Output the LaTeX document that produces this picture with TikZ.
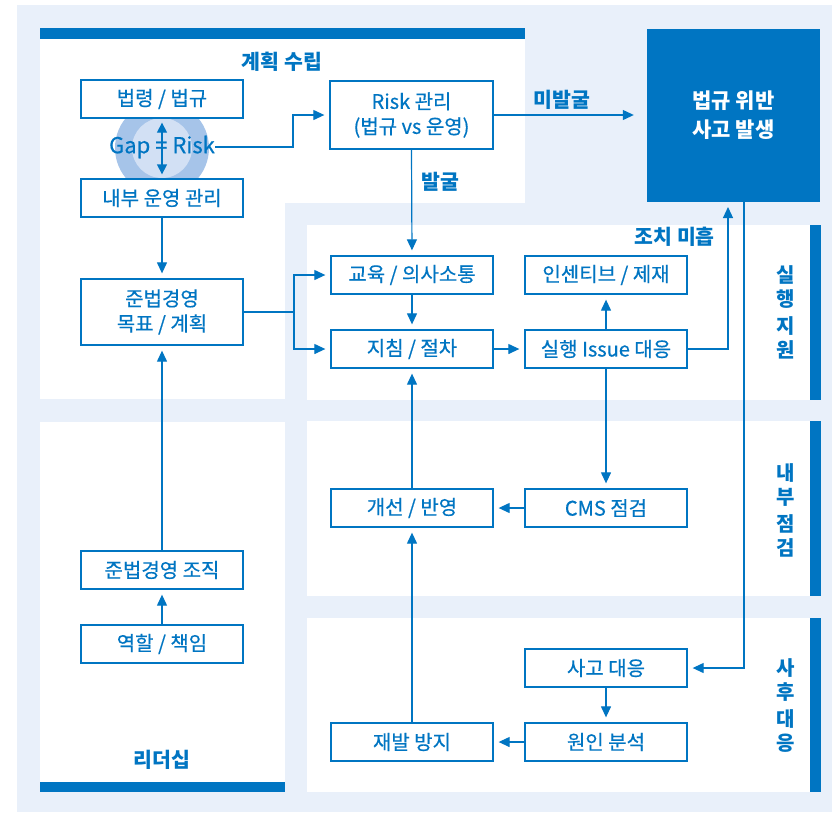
\documentclass[tikz,border=0pt]{standalone}
\usepackage{fontspec}
\setmainfont{Noto Sans CJK KR}
\newfontfamily\medio{Noto Sans CJK KR}[FakeBold=0.5]
\usetikzlibrary{arrows.meta}

\definecolor{cmsblu}{HTML}{0075C2}
\definecolor{cmsfondo}{HTML}{E9F0FA}
\definecolor{anelloext}{HTML}{A6C4E9}
\definecolor{anelloint}{HTML}{D2E0F4}

\newcommand{\fontbox}{\medio\fontsize{20}{25}\selectfont}
\newcommand{\fontetich}{\fontsize{20.5}{24}\selectfont\bfseries}

\tikzset{
  box/.style={draw=cmsblu, line width=1.3pt, fill=white, text=cmsblu,
    minimum width=162pt, minimum height=38pt, inner sep=0pt, align=center, font=\fontbox},
  etich/.style={text=cmsblu, font=\fontetich, inner sep=0pt, align=center},
  freccia/.style={draw=cmsblu, line width=1.2pt, shorten >=5pt,
    -{Triangle[length=11pt,width=10pt]}}
}

\begin{document}
\begin{tikzpicture}[x=1pt,y=-1pt]
    \useasboundingbox (0,0) rectangle (832,812);

    % Sfondo e pannelli
    \fill[cmsfondo] (17,5) rectangle (832,812);
    \fill[white] (40,28) rectangle (525,203);
    \fill[white] (40,203) rectangle (285,399);
    \fill[cmsblu] (40,28) rectangle (525,39);
    \fill[white] (40,422) rectangle (285,792);
    \fill[cmsblu] (40,782) rectangle (285,792);
    \foreach \ya/\yb in {225/400, 421/596, 618/792}{
        \fill[white] (307,\ya) rectangle (810,\yb);
        \fill[cmsblu] (810,\ya) rectangle (821,\yb);
    }

    % Cerchio Gap = Risk
    \fill[anelloext] (162,148) circle (47);
    \fill[anelloint] (162,148) circle (30);

    % Nodi
    \node[box] (legge) at (162,99) {법령 / 법규};
    \node[box] (interno) at (162,198) {내부 운영 관리};
    \node[box, minimum height=66pt] (obiettivo) at (162,312) {준법경영\\목표 / 계획};
    \node[box, minimum width=163pt, minimum height=68pt] (risk) at (411.5,115) {Risk 관리\\(법규 vs 운영)};
    \node[box] (edu) at (412,275) {교육 / 의사소통};
    \node[box] (incent) at (606,275) {인센티브 / 제재};
    \node[box] (guida) at (412,349) {지침 / 절차};
    \node[box] (issue) at (606,349) {실행 Issue 대응};
    \node[box] (miglio) at (412,508) {개선 / 반영};
    \node[box] (cms) at (606,508) {CMS 점검};
    \node[box] (incid) at (606,668) {사고 대응};
    \node[box] (causa) at (606,742) {원인 분석};
    \node[box] (preven) at (412,742) {재발 방지};
    \node[box] (org) at (162,570) {준법경영 조직};
    \node[box] (ruolo) at (162,644) {역할 / 책임};
    \node[fill=cmsblu, minimum width=173pt, minimum height=173pt, text=white,
        align=center, font=\fontsize{21}{29}\selectfont\bfseries] (viola) at (733.5,115.5) {법규 위반\\사고 발생};

    % Gap = Risk
    \node[text=cmsblu, inner sep=0pt, font=\medio\fontsize{22}{25}\selectfont] (gap) at (162,147) {Gap = Risk};
    \draw[cmsblu, line width=1.3pt, {Triangle[length=10pt,width=10pt]}-{Triangle[length=10pt,width=10pt]}]
        ([yshift=-4pt]legge.south) -- ([yshift=4pt]interno.north);

    % Etichette
    \node[etich] (pianif) at (282,62) {계획 수립};
    \node[etich] (nonril) at (562,100) {미발굴};
    \node[etich] (ril) at (440,182) {발굴};
    \node[etich, anchor=east] (carente) at (715,237) {조치 미흡};
    \node[etich] (leader) at (162,760) {리더십};
    \node[etich, font=\fontsize{20}{24}\selectfont\bfseries] (esec) at (786,312) {실\\행\\[3pt]지\\원};
    \node[etich, font=\fontsize{20}{24}\selectfont\bfseries] (ispez) at (786,510) {내\\부\\[3pt]점\\검};
    \node[etich, font=\fontsize{20}{24}\selectfont\bfseries] (dopo) at (786,706) {사\\후\\[3pt]대\\응};

    % Connettori
    \coordinate (su) at (728,202);
    \coordinate (giu) at (744,202);
    \coordinate (bivio) at (294,312);
    \draw[freccia] (gap.east) -- (293,147) |- (risk.west);
    \draw[freccia, shorten >=13pt] (risk.east) -- (viola.west |- risk.east);
    \draw[freccia] (risk.south) -- (edu.north);
    \draw[freccia] (legge.south |- interno.south) -- (obiettivo.north);
    \draw[cmsblu, line width=1.2pt] (obiettivo.east) -- (bivio);
    \draw[freccia] (bivio) |- (edu.west);
    \draw[freccia] (bivio) |- (guida.west);
    \draw[freccia] (edu.south) -- (guida.north);
    \draw[freccia] (guida.east) -- (issue.west);
    \draw[freccia] (issue.north) -- (incent.south);
    \draw[freccia] (issue.east) -| (su);
    \draw[freccia] (issue.south) -- (cms.north);
    \draw[freccia] (cms.west) -- (miglio.east);
    \draw[freccia] (miglio.north) -- (guida.south);
    \draw[freccia] (giu) |- (incid.east);
    \draw[freccia] (incid.south) -- (causa.north);
    \draw[freccia] (causa.west) -- (preven.east);
    \draw[freccia] (preven.north) -- (miglio.south);
    \draw[freccia] (ruolo.north) -- (org.south);
    \draw[freccia] (org.north) -- (obiettivo.south);
\end{tikzpicture}
\end{document}
